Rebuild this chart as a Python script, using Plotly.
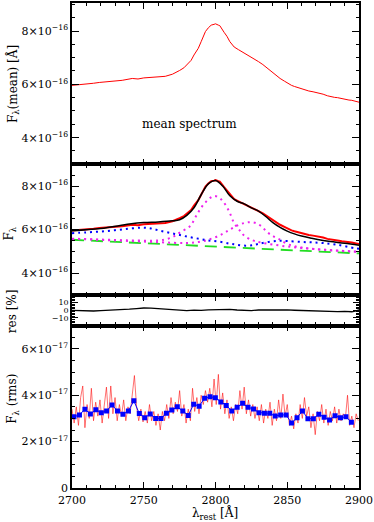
import numpy as np
import plotly.graph_objects as go
from plotly.subplots import make_subplots

# ---------------- data (flux in units noted) ----------------
# mean spectrum (x1e-16)
mean_wl = [2700, 2705, 2710, 2715, 2719, 2725, 2730, 2735, 2742, 2746, 2750, 2755, 2760, 2765,
           2770, 2773, 2775, 2778, 2780, 2783, 2785, 2788, 2790, 2793, 2795, 2797, 2799, 2800,
           2802, 2803, 2806, 2808, 2810, 2812, 2813, 2816, 2818, 2820, 2823, 2826, 2830, 2833,
           2835, 2838, 2840, 2843, 2845, 2848, 2850, 2853, 2855, 2858, 2860, 2863, 2865, 2868,
           2870, 2873, 2875, 2878, 2880, 2883, 2885, 2888, 2890, 2893, 2895, 2898, 2900]
mean_flux = [5.96, 5.98, 6.00, 6.04, 6.07, 6.09, 6.12, 6.15, 6.22, 6.20, 6.24, 6.26, 6.28, 6.30,
             6.38, 6.45, 6.52, 6.62, 6.72, 6.90, 7.10, 7.35, 7.60, 7.98, 8.12, 8.22, 8.25, 8.27,
             8.22, 8.20, 7.95, 7.80, 7.60, 7.45, 7.40, 7.30, 7.24, 7.18, 7.08, 6.99, 6.85, 6.74,
             6.65, 6.52, 6.42, 6.30, 6.22, 6.12, 6.05, 5.96, 5.92, 5.86, 5.82, 5.77, 5.75, 5.72,
             5.70, 5.66, 5.63, 5.57, 5.54, 5.51, 5.50, 5.46, 5.45, 5.41, 5.40, 5.36, 5.33]

# model components (x1e-16)
fit_wl = [2700, 2720, 2740, 2750, 2760, 2770, 2775, 2780, 2785, 2790, 2795, 2800, 2805, 2810,
          2815, 2820, 2825, 2830, 2835, 2840, 2845, 2850, 2855, 2860, 2867, 2875, 2880, 2890, 2900]
fit_total = [5.95, 6.05, 6.25, 6.32, 6.35, 6.40, 6.45, 6.65, 7.00, 7.60, 8.10, 8.26, 8.00, 7.55,
             7.30, 7.18, 7.00, 6.85, 6.60, 6.32, 6.10, 5.93, 5.80, 5.70, 5.60, 5.50, 5.45, 5.37, 5.28]

cont_wl = [2700, 2720, 2740, 2760, 2780, 2800, 2820, 2840, 2860, 2880, 2900]
cont_flux = [5.53, 5.47, 5.41, 5.35, 5.27, 5.21, 5.14, 5.08, 5.02, 4.96, 4.90]

feii_wl = [2700, 2710, 2720, 2730, 2740, 2749, 2755, 2761, 2768, 2775, 2782, 2789, 2795, 2802,
           2810, 2815, 2821, 2826, 2830, 2837, 2844, 2850, 2860, 2867, 2875, 2885, 2897, 2900]
feii_flux = [5.83, 5.87, 5.91, 5.97, 6.04, 6.09, 6.05, 5.95, 5.85, 5.75, 5.65, 5.57, 5.50, 5.45,
             5.35, 5.30, 5.26, 5.28, 5.34, 5.43, 5.48, 5.47, 5.43, 5.41, 5.38, 5.30, 5.14, 5.12]

g1_wl = [2700, 2720, 2740, 2760, 2767, 2772, 2776, 2782, 2788, 2793, 2799, 2804, 2809, 2813,
         2817, 2820, 2826, 2832, 2850, 2870, 2900]
g1_flux = [5.58, 5.54, 5.50, 5.50, 5.58, 5.72, 5.90, 6.14, 6.80, 7.25, 7.54, 7.38, 6.90, 6.30,
           5.95, 5.72, 5.50, 5.40, 5.22, 5.10, 4.98]

g2_wl = [2700, 2730, 2760, 2780, 2790, 2798, 2805, 2810, 2815, 2820, 2824, 2828, 2832, 2836,
         2840, 2844, 2851, 2860, 2875, 2900]
g2_flux = [5.57, 5.50, 5.42, 5.38, 5.45, 5.60, 5.80, 6.00, 6.18, 6.30, 6.34, 6.30, 6.15, 5.88,
           5.70, 5.57, 5.31, 5.17, 5.07, 4.97]

# residuals [%]
res_wl = [2700, 2705, 2710, 2715, 2720, 2725, 2730, 2735, 2740, 2745, 2750, 2755, 2760, 2765,
          2770, 2775, 2780, 2785, 2790, 2795, 2800, 2805, 2810, 2815, 2820, 2825, 2830, 2835,
          2840, 2845, 2850, 2855, 2860, 2865, 2870, 2875, 2880, 2885, 2890, 2895, 2898, 2900]
res_val = [-0.3, -0.8, -0.5, -1.0, -0.6, -0.2, 0.5, 0.3, 1.4, 2.2, 2.9, 2.6, 2.0, 0.8,
           0.1, -0.3, -0.5, 0.2, -0.2, 0.4, 0.6, 0.2, 1.1, 0.3, 0.0, -0.4, 0.3, 0.5,
           0.2, 0.6, 0.4, 0.0, -0.3, -0.9, -1.4, -1.0, -1.3, -1.8, -1.6, -2.0, -0.8, 0.5]

# rms spectrum (x1e-17), sampled every 1.5 A from 2700
rms_red = [3.4, 2.8, 3.5, 2.7, 3.9, 4.4, 2.6, 3.6, 3.0, 4.3,
           2.9, 3.7, 3.1, 3.8, 2.8, 3.5, 4.35, 3.0, 4.4, 3.2,
           3.9, 2.9, 3.6, 3.1, 3.8, 2.9, 3.5, 3.2, 4.0, 4.85,
           3.5, 2.9, 3.4, 2.85, 3.3, 2.8, 3.6, 2.9, 3.3, 2.7,
           3.2, 2.5, 3.3, 2.9, 3.6, 3.0, 3.9, 3.2, 3.7, 3.3,
           4.2, 3.1, 3.6, 2.8, 3.4, 2.9, 4.3, 3.3, 3.9, 3.2,
           4.0, 3.6, 4.2, 3.7, 4.3, 3.5, 4.7, 3.6, 4.9, 3.4,
           4.1, 3.2, 3.8, 3.0, 3.5, 2.9, 3.6, 3.2, 4.2, 3.4,
           4.35, 3.2, 3.8, 3.1, 3.6, 3.0, 3.5, 2.9, 3.6, 2.8,
           3.4, 3.0, 3.7, 2.7, 3.4, 2.9, 3.8, 3.0, 4.05, 3.1,
           3.6, 2.7, 3.1, 2.55, 3.2, 2.8, 3.6, 3.0, 3.9, 3.1,
           3.5, 2.6, 3.2, 2.3, 3.3, 2.9, 3.6, 2.8, 3.4, 2.7,
           3.3, 2.9, 3.5, 2.8, 3.4, 2.9, 3.2, 3.0, 4.0, 2.7,
           3.1, 2.6, 3.2, 2.9]
rms_wl = list(2700 + 1.5 * np.arange(len(rms_red)))

bin_wl = [2701.4, 2705.2, 2709.0, 2712.8, 2716.6, 2720.4, 2724.1, 2727.9, 2731.7, 2735.5,
          2739.3, 2743.1, 2746.9, 2750.7, 2754.5, 2758.3, 2762.0, 2765.8, 2769.6, 2773.4,
          2777.2, 2781.0, 2784.8, 2788.6, 2792.4, 2796.2, 2799.9, 2803.7, 2807.5, 2811.3,
          2815.1, 2818.9, 2822.7, 2826.5, 2830.3, 2834.1, 2837.8, 2841.6, 2845.4, 2849.2,
          2853.0, 2856.8, 2860.6, 2864.4, 2868.2, 2872.0, 2875.7, 2879.5, 2883.3, 2887.1,
          2890.9, 2894.7]
bin_rms = [3.07, 3.15, 3.40, 3.19, 3.37, 3.25, 3.32, 3.58, 3.32, 3.18,
           3.32, 3.76, 3.21, 3.03, 3.19, 3.00, 3.00, 3.22, 3.36, 3.50,
           3.32, 3.13, 3.61, 3.53, 3.87, 3.94, 3.89, 3.71, 3.56, 3.32,
           3.48, 3.65, 3.48, 3.41, 3.25, 3.22, 3.22, 3.10, 3.15, 3.15,
           2.80, 3.03, 3.32, 2.99, 2.99, 3.18, 3.05, 2.93, 3.12, 3.03,
           3.07, 2.84]

x_ticks = [2700, 2750, 2800, 2850, 2900]

def s16(a):
    return [v * 1e-16 for v in a]

def s17(a):
    return [v * 1e-17 for v in a]

FONT = "DejaVu Serif"

fig = make_subplots(rows=4, cols=1, shared_xaxes=True, vertical_spacing=0)

# top panel
fig.add_trace(go.Scatter(x=mean_wl, y=s16(mean_flux), mode="lines",
                         line=dict(color="red", width=1)), row=1, col=1)
# second panel
fig.add_trace(go.Scatter(x=mean_wl, y=s16(mean_flux), mode="lines",
                         line=dict(color="red", width=2)), row=2, col=1)
fig.add_trace(go.Scatter(x=cont_wl, y=s16(cont_flux), mode="lines",
                         line=dict(color="#22dd22", width=1.8, dash="12px,7px")), row=2, col=1)
fig.add_trace(go.Scatter(x=g1_wl, y=s16(g1_flux), mode="lines", line_shape="spline",
                         line=dict(color="#ee22ee", width=2, dash="2px,4px")), row=2, col=1)
fig.add_trace(go.Scatter(x=g2_wl, y=s16(g2_flux), mode="lines", line_shape="spline",
                         line=dict(color="#ee22ee", width=2, dash="2px,4px")), row=2, col=1)
fig.add_trace(go.Scatter(x=feii_wl, y=s16(feii_flux), mode="lines", line_shape="spline",
                         line=dict(color="blue", width=2, dash="2px,4px")), row=2, col=1)
fig.add_trace(go.Scatter(x=fit_wl, y=s16(fit_total), mode="lines", line_shape="spline",
                         line=dict(color="black", width=1.5)), row=2, col=1)
# residual panel
fig.add_trace(go.Scatter(x=res_wl, y=res_val, mode="lines",
                         line=dict(color="black", width=1.3)), row=3, col=1)
# rms panel
fig.add_trace(go.Scatter(x=rms_wl, y=s17(rms_red), mode="lines",
                         line=dict(color="rgba(255,0,0,0.8)", width=0.7)), row=4, col=1)
fig.add_trace(go.Scatter(x=bin_wl, y=s17(bin_rms), mode="lines+markers",
                         line=dict(color="blue", width=1),
                         marker=dict(symbol="square", size=5, color="blue")), row=4, col=1)

domains = {1: [0.6674, 1.0], 2: [0.3984, 0.6674], 3: [0.3347, 0.3984], 4: [0.0, 0.3347]}

axis_common = dict(showline=True, linecolor="black", linewidth=1.5, mirror="allticks",
                   ticks="inside", tickcolor="black", tickwidth=1.2, showgrid=False,
                   zeroline=False, tickfont=dict(family=FONT, size=11, color="black"))

for r in range(1, 5):
    fig.update_xaxes(range=[2700, 2900], tickvals=x_ticks, ticklen=6,
                     minor=dict(dtick=10, ticklen=3.5, ticks="inside", tickcolor="black",
                                tickwidth=1.2, showgrid=False),
                     showticklabels=(r == 4), ticklabeloverflow="allow",
                     ticklabelstandoff=1, row=r, col=1, **axis_common)
    fig.update_yaxes(domain=domains[r], row=r, col=1)


def sci(m, e):
    return f"{m}×10<sup>−{e}</sup>"

minor16 = dict(tickvals=list(np.arange(3, 9.01, 0.5) * 1e-16), ticklen=3.5,
               ticks="inside", tickcolor="black", tickwidth=1.2)
fig.update_yaxes(range=[3e-16, 9.05e-16], tickvals=[4e-16, 6e-16, 8e-16],
                 ticktext=[sci(4, 16), sci(6, 16), sci(8, 16)], ticklen=7,
                 minor=minor16, row=1, col=1, **axis_common)
fig.update_yaxes(range=[3e-16, 9e-16], tickvals=[4e-16, 6e-16, 8e-16],
                 ticktext=[sci(4, 16), sci(6, 16), sci(8, 16)], ticklen=7,
                 minor=minor16, row=2, col=1, **axis_common)
res_axis = dict(axis_common)
res_axis["tickfont"] = dict(family=FONT, size=8, color="black")
fig.update_yaxes(range=[-20, 20], tickvals=[-10, 0, 10], ticktext=["−10", "0", "10"], ticklen=6,
                 minor=dict(dtick=2, ticklen=3, ticks="inside", tickcolor="black", tickwidth=1.2),
                 row=3, col=1, **res_axis)
fig.update_yaxes(range=[0, 7e-17], tickvals=[0, 2e-17, 4e-17, 6e-17],
                 ticktext=["0", sci(2, 17), sci(4, 17), sci(6, 17)], ticklen=7,
                 minor=dict(tickvals=list(np.arange(0, 7.01, 0.5) * 1e-17), ticklen=3.5,
                            ticks="inside", tickcolor="black", tickwidth=1.2),
                 row=4, col=1, **axis_common)

# axis titles as annotations (pixel positions converted to paper coords)
L, R, T, B, W, H = 72, 13, 1, 34, 374, 522
PW, PH = W - L - R, H - T - B

def px(xp):
    return (xp - L) / PW

def py(yp):
    return (H - B - yp) / PH

tfont = dict(family=FONT, size=12, color="black")
titles = [
    ("F<sub>λ</sub>(mean) [Å]", 13, 82, -90),
    ("F<sub>λ</sub>", 10, 232, -90),
    ("res [%]", 11, 310, -90),
    ("F<sub>λ</sub> (rms)", 13, 398, -90),
    ("λ<sub>rest</sub> [Å]", 216, 514, 0),
]
for txt, xp, yp, ang in titles:
    fig.add_annotation(x=px(xp), y=py(yp), xref="paper", yref="paper", text=txt,
                       showarrow=False, textangle=ang, font=tfont,
                       xanchor="center", yanchor="middle")

fig.add_annotation(x=2782, y=4.52e-16, xref="x", yref="y", text="mean spectrum",
                   showarrow=False, font=dict(family=FONT, size=12, color="black"))

fig.update_layout(width=W, height=H, margin=dict(l=L, r=R, t=T, b=B),
                  plot_bgcolor="white", paper_bgcolor="white", showlegend=False,
                  font=dict(family=FONT, color="black"))

fig.write_html("out.html", config={"displayModeBar": False},
               post_script="document.body.style.margin='0px';document.body.style.overflow='hidden';")
